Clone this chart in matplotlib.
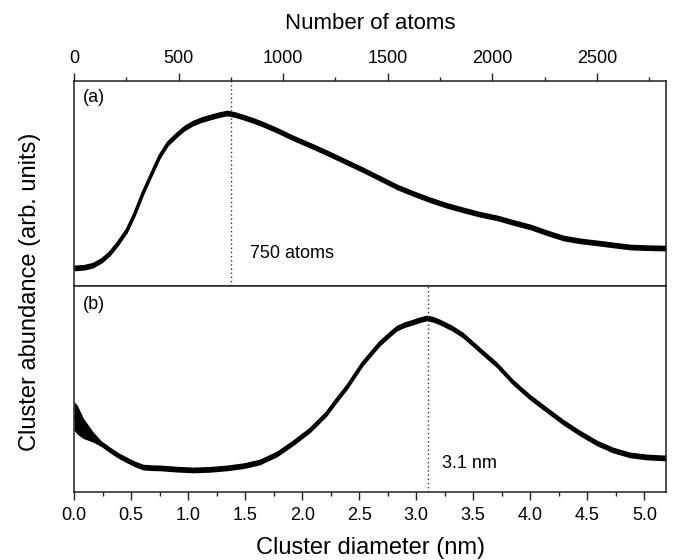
import matplotlib
matplotlib.use("Agg")
import matplotlib.pyplot as plt
from matplotlib.ticker import MultipleLocator, FormatStrFormatter
import numpy as np

# panel (a): abundance vs number of atoms (arb. units)
atoms = [0, 5, 50, 91, 134, 172, 211, 254, 292, 330, 373, 411, 450, 493, 530,
         569, 610, 651, 690, 732, 770, 809, 850, 890, 970, 1048, 1130, 1211,
         1300, 1383, 1465, 1545, 1625, 1703, 1780, 1861, 1940, 2024, 2100,
         2182, 2260, 2340, 2420, 2502, 2580, 2660, 2740, 2830]
abund_a = [0.092, 0.088, 0.092, 0.102, 0.127, 0.161, 0.210, 0.273, 0.356, 0.454,
           0.551, 0.635, 0.698, 0.740, 0.772, 0.795, 0.812, 0.824, 0.835, 0.844,
           0.836, 0.824, 0.810, 0.795, 0.760, 0.722, 0.686, 0.649, 0.606, 0.566,
           0.524, 0.483, 0.450, 0.420, 0.394, 0.371, 0.350, 0.332, 0.310,
           0.288, 0.260, 0.234, 0.220, 0.210, 0.200, 0.190, 0.187, 0.185]
spread_a = [0.014] * len(atoms)

# panel (b): abundance vs cluster diameter
diam = [0.0, 0.03, 0.08, 0.167, 0.24, 0.316, 0.39, 0.465, 0.53, 0.605, 0.68,
        0.754, 0.9, 1.043, 1.19, 1.341, 1.49, 1.630, 1.78, 1.919, 2.068, 2.217,
        2.30, 2.393, 2.533, 2.682, 2.76, 2.831, 2.90, 2.971, 3.03, 3.094, 3.15,
        3.208, 3.31, 3.409, 3.558, 3.707, 3.847, 3.996, 4.146, 4.286, 4.435,
        4.584, 4.724, 4.873, 5.022, 5.19]
abund_b = [0.37, 0.35, 0.31, 0.267, 0.234, 0.204, 0.177, 0.155, 0.137, 0.121,
           0.118, 0.117, 0.111, 0.107, 0.110, 0.117, 0.128, 0.146, 0.185, 0.238,
           0.301, 0.383, 0.445, 0.510, 0.626, 0.723, 0.762, 0.796, 0.813, 0.825,
           0.836, 0.845, 0.838, 0.825, 0.797, 0.762, 0.689, 0.617, 0.534, 0.461,
           0.398, 0.340, 0.286, 0.238, 0.204, 0.180, 0.170, 0.165]
spread_b = [0.07, 0.07, 0.05, 0.025] + [0.014] * (len(diam) - 4)

peak_atoms = 750
peak_diam = 3.1

FONT = "Liberation Sans"
EDGE = "#222222"


def draw_band(ax, x, y, s):
    x = np.array(x)
    y = np.array(y)
    s = np.array(s)
    ax.fill_between(x, y - s, y + s, color="black", linewidth=0)
    ax.plot(x, y, color="black", lw=2.4, solid_joinstyle="round",
            solid_capstyle="butt")


def style_spines(ax):
    for sp in ax.spines.values():
        sp.set_linewidth(1.1)
        sp.set_color(EDGE)


def main():
    plt.rcParams["font.family"] = FONT
    fig = plt.figure(figsize=(6.73, 5.6), dpi=100)

    ax_a = fig.add_axes([74 / 673, 1 - 286 / 560, 592 / 673, 205 / 560])
    ax_b = fig.add_axes([74 / 673, 1 - 492 / 560, 592 / 673, 206 / 560])

    # top panel
    draw_band(ax_a, atoms, abund_a, spread_a)
    ax_a.axvline(peak_atoms, color="#333333", lw=1.0, ls=(0, (1, 2)))
    ax_a.set_xlim(0, 2830)
    ax_a.set_ylim(0, 1)
    ax_a.set_yticks([])
    ax_a.xaxis.set_major_locator(MultipleLocator(500))
    ax_a.xaxis.set_minor_locator(MultipleLocator(250))
    ax_a.xaxis.set_label_position("top")
    ax_a.tick_params(axis="x", which="major", top=True, bottom=False,
                     labeltop=True, labelbottom=False, direction="out",
                     length=6, width=1.0, color=EDGE, labelsize=13, pad=4)
    ax_a.tick_params(axis="x", which="minor", top=True, bottom=True,
                     direction="out", length=3, width=1.0, color=EDGE)
    ax_a.set_xlabel("Number of atoms", fontsize=16, labelpad=15)
    ax_a.text(0.015, 0.96, "(a)", transform=ax_a.transAxes, fontsize=13,
              va="top", ha="left")
    ax_a.text(842, 0.16, "750 atoms", fontsize=13, va="center", ha="left")
    style_spines(ax_a)

    # bottom panel
    draw_band(ax_b, diam, abund_b, spread_b)
    ax_b.axvline(peak_diam, color="#333333", lw=1.0, ls=(0, (1, 2)))
    ax_b.set_xlim(0, 5.19)
    ax_b.set_ylim(0, 1)
    ax_b.set_yticks([])
    ax_b.xaxis.set_major_locator(MultipleLocator(0.5))
    ax_b.xaxis.set_minor_locator(MultipleLocator(0.25))
    ax_b.xaxis.set_major_formatter(FormatStrFormatter("%.1f"))
    ax_b.tick_params(axis="x", which="major", direction="out", length=6,
                     width=1.0, color=EDGE, labelsize=13, pad=5)
    ax_b.tick_params(axis="x", which="minor", direction="out", length=3,
                     width=1.0, color=EDGE)
    ax_b.set_xlabel("Cluster diameter (nm)", fontsize=17, labelpad=9)
    ax_b.text(0.015, 0.95, "(b)", transform=ax_b.transAxes, fontsize=13,
              va="top", ha="left")
    ax_b.text(3.225, 0.136, "3.1 nm", fontsize=13, va="center", ha="left")
    style_spines(ax_b)

    fig.text(30 / 673, 1 - 292 / 560, "Cluster abundance (arb. units)",
             rotation=90, fontsize=17, va="center", ha="center")

    fig.savefig("out.png", dpi=100)


if __name__ == "__main__":
    main()
